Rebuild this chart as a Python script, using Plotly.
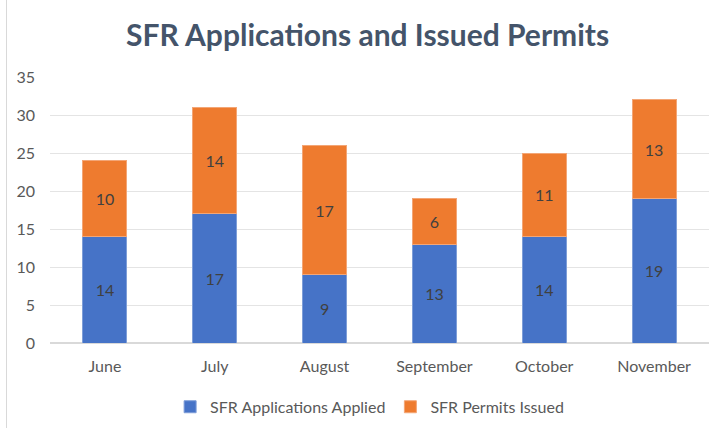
import plotly.graph_objects as go

months = ["June", "July", "August", "September", "October", "November"]
applications = [14, 17, 9, 13, 14, 19]
permits = [10, 14, 17, 6, 11, 13]

FONT = "Lato"
TEXT_GRAY = "#595959"
LABEL_GRAY = "#404040"

fig = go.Figure()
fig.add_trace(go.Bar(
    x=months, y=applications, name="SFR Applications Applied",
    marker=dict(color="#4673C7", line=dict(color="#7E9ED8", width=1)),
    text=applications, textposition="inside", insidetextanchor="middle",
    textfont=dict(family=FONT, size=16, color=LABEL_GRAY),
))
fig.add_trace(go.Bar(
    x=months, y=permits, name="SFR Permits Issued",
    marker=dict(color="#EE7B2F", line=dict(color="#F3A676", width=1)),
    text=permits, textposition="inside", insidetextanchor="middle",
    textfont=dict(family=FONT, size=16, color=LABEL_GRAY),
))

fig.update_layout(
    barmode="stack",
    bargap=0.6,
    width=718, height=428,
    margin=dict(l=50, r=9, t=77, b=85, autoexpand=False),
    paper_bgcolor="white", plot_bgcolor="white",
    font=dict(family=FONT, size=16, color=TEXT_GRAY),
    title=dict(
        text="<b>SFR Applications and Issued Permits</b>",
        x=0.512, xanchor="center", y=0.918, yanchor="middle",
        font=dict(family=FONT, size=30, color="#44546A"),
    ),
    legend=dict(
        orientation="h", x=0.485, xanchor="center", y=-0.24, yanchor="middle",
        font=dict(family=FONT, size=16, color=TEXT_GRAY),
        itemwidth=30, traceorder="normal",
    ),
    uniformtext=dict(mode="show", minsize=10),
)
fig.update_xaxes(showgrid=False, showline=False, ticks="", ticklabelstandoff=12,
                 automargin=False, tickfont=dict(size=16, color=TEXT_GRAY))
fig.update_yaxes(
    range=[0, 35], dtick=5, showgrid=True, gridcolor="#E4E4E4", gridwidth=1,
    zeroline=True, zerolinecolor="#D9D9D9", showline=False, automargin=False,
    ticks="", ticklabelstandoff=14, tickfont=dict(size=16, color=TEXT_GRAY),
)

# Thin chart-area border along the left edge
fig.add_shape(type="line", xref="paper", yref="paper", x0=-0.066, x1=-0.066, y0=-0.32, y1=1.3,
              line=dict(color="#D9D9D9", width=1))

fig.write_html("out.html")
